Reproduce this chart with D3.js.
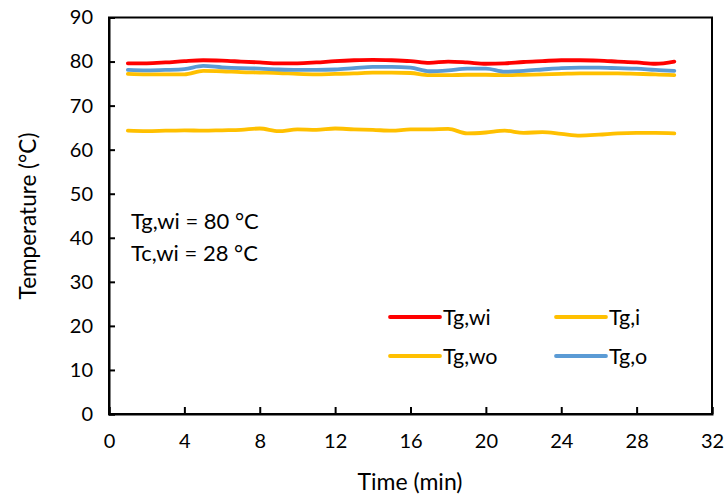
<!DOCTYPE html>
<html>
<head>
<meta charset="utf-8">
<script src="https://cdn.jsdelivr.net/npm/d3@7/dist/d3.min.js"></script>
<style>
  html, body { margin: 0; padding: 0; background: #fff; }
  svg { display: block; font-family: Lato, "Open Sans", sans-serif; }
</style>
</head>
<body>
<svg id="chart" width="724" height="497"></svg>
<script>
// Time stamps (min)
const minutes = d3.range(1, 31);

// Temperatures (°C)
const tgWi = [79.6, 79.6, 79.8, 80.1, 80.3, 80.2, 80.0, 79.8, 79.6, 79.6,
              79.8, 80.1, 80.3, 80.4, 80.3, 80.1, 79.7, 80.0, 79.8, 79.5,
              79.6, 79.9, 80.1, 80.3, 80.3, 80.2, 80.0, 79.8, 79.5, 80.0];
const tgO  = [78.1, 78.0, 78.1, 78.3, 79.0, 78.7, 78.5, 78.4, 78.2, 78.1,
              78.1, 78.2, 78.5, 78.8, 78.8, 78.6, 77.8, 78.0, 78.4, 78.4,
              77.7, 77.9, 78.2, 78.5, 78.6, 78.6, 78.5, 78.4, 78.1, 77.9];
const tgWo = [77.2, 77.1, 77.1, 77.1, 77.9, 77.8, 77.6, 77.5, 77.4, 77.2,
              77.1, 77.2, 77.3, 77.5, 77.5, 77.4, 76.9, 76.9, 77.0, 77.0,
              76.9, 77.0, 77.1, 77.2, 77.3, 77.3, 77.3, 77.2, 77.1, 76.9];
const tgI  = [64.3, 64.2, 64.3, 64.4, 64.3, 64.4, 64.5, 64.8, 64.2, 64.6,
              64.5, 64.8, 64.6, 64.5, 64.3, 64.6, 64.6, 64.7, 63.7, 63.9,
              64.3, 63.8, 64.0, 63.6, 63.2, 63.4, 63.7, 63.8, 63.8, 63.7];

const seriesNames = ["Tg,wi", "Tg,i", "Tg,wo", "Tg,o"];
const seriesColors = ["#FF0000", "#FFC000", "#FFC000", "#5B9BD5"];
const seriesValues = [tgWi, tgI, tgWo, tgO];

const xTicks = [0, 4, 8, 12, 16, 20, 24, 28, 32];
const yTicks = [0, 10, 20, 30, 40, 50, 60, 70, 80, 90];
const notes = ["Tg,wi = 80 °C", "Tc,wi = 28 °C"];

const svg = d3.select("#chart");
const plot = { left: 109, right: 712, top: 17.5, bottom: 414 };

const x = d3.scaleLinear().domain([0, 32]).range([plot.left, plot.right]);
const y = d3.scaleLinear().domain([0, 90]).range([plot.bottom, plot.top]);

// Frame
svg.append("rect")
  .attr("x", plot.left).attr("y", plot.top)
  .attr("width", plot.right - plot.left).attr("height", plot.bottom - plot.top)
  .attr("fill", "none").attr("stroke", "#000").attr("stroke-width", 2);

// Axes with inward ticks
const xAxis = svg.append("g")
  .attr("transform", `translate(0,${plot.bottom})`)
  .call(d3.axisBottom(x).tickValues(xTicks).tickSize(-7).tickPadding(20));
const yAxis = svg.append("g")
  .attr("transform", `translate(${plot.left},0)`)
  .call(d3.axisLeft(y).tickValues(yTicks).tickSize(-6).tickPadding(16));

[xAxis, yAxis].forEach(g => {
  g.select(".domain").attr("stroke", "#000").attr("stroke-width", 2);
  g.selectAll(".tick line").attr("stroke", "#000").attr("stroke-width", 2);
  g.selectAll(".tick text").attr("fill", "#000").attr("font-size", 20)
    .attr("font-family", "Lato, 'Open Sans', sans-serif");
});

// Series lines
const line = d3.line()
  .x((d, i) => x(minutes[i]))
  .y(d => y(d))
  .curve(d3.curveMonotoneX);

// draw order: Tg,i, Tg,wo, Tg,o, Tg,wi
[1, 2, 3, 0].forEach(k => {
  svg.append("path")
    .datum(seriesValues[k])
    .attr("d", line)
    .attr("fill", "none")
    .attr("stroke", seriesColors[k])
    .attr("stroke-width", 3.8)
    .attr("stroke-linejoin", "round")
    .attr("stroke-linecap", "round");
});

// Axis titles
svg.append("text")
  .attr("x", 410).attr("y", 490)
  .attr("text-anchor", "middle").attr("font-size", 23)
  .text("Time (min)");
svg.append("text")
  .attr("transform", "translate(36,216) rotate(-90)")
  .attr("text-anchor", "middle").attr("font-size", 22.5)
  .text("Temperature (°C)");

// Operating conditions
notes.forEach((t, i) => {
  svg.append("text")
    .attr("x", 131).attr("y", 229 + i * 32)
    .attr("font-size", 22)
    .text(t);
});

// Legend
const legendPos = [[390, 317], [556, 317], [390, 356], [556, 356]];
seriesNames.forEach((name, i) => {
  const [lx, ly] = legendPos[i];
  svg.append("line")
    .attr("x1", lx).attr("x2", lx + 50)
    .attr("y1", ly).attr("y2", ly)
    .attr("stroke", seriesColors[i]).attr("stroke-width", 3.8)
    .attr("stroke-linecap", "round");
  svg.append("text")
    .attr("x", lx + 53).attr("y", ly + 8)
    .attr("font-size", 21.5)
    .text(name);
});
</script>
</body>
</html>
